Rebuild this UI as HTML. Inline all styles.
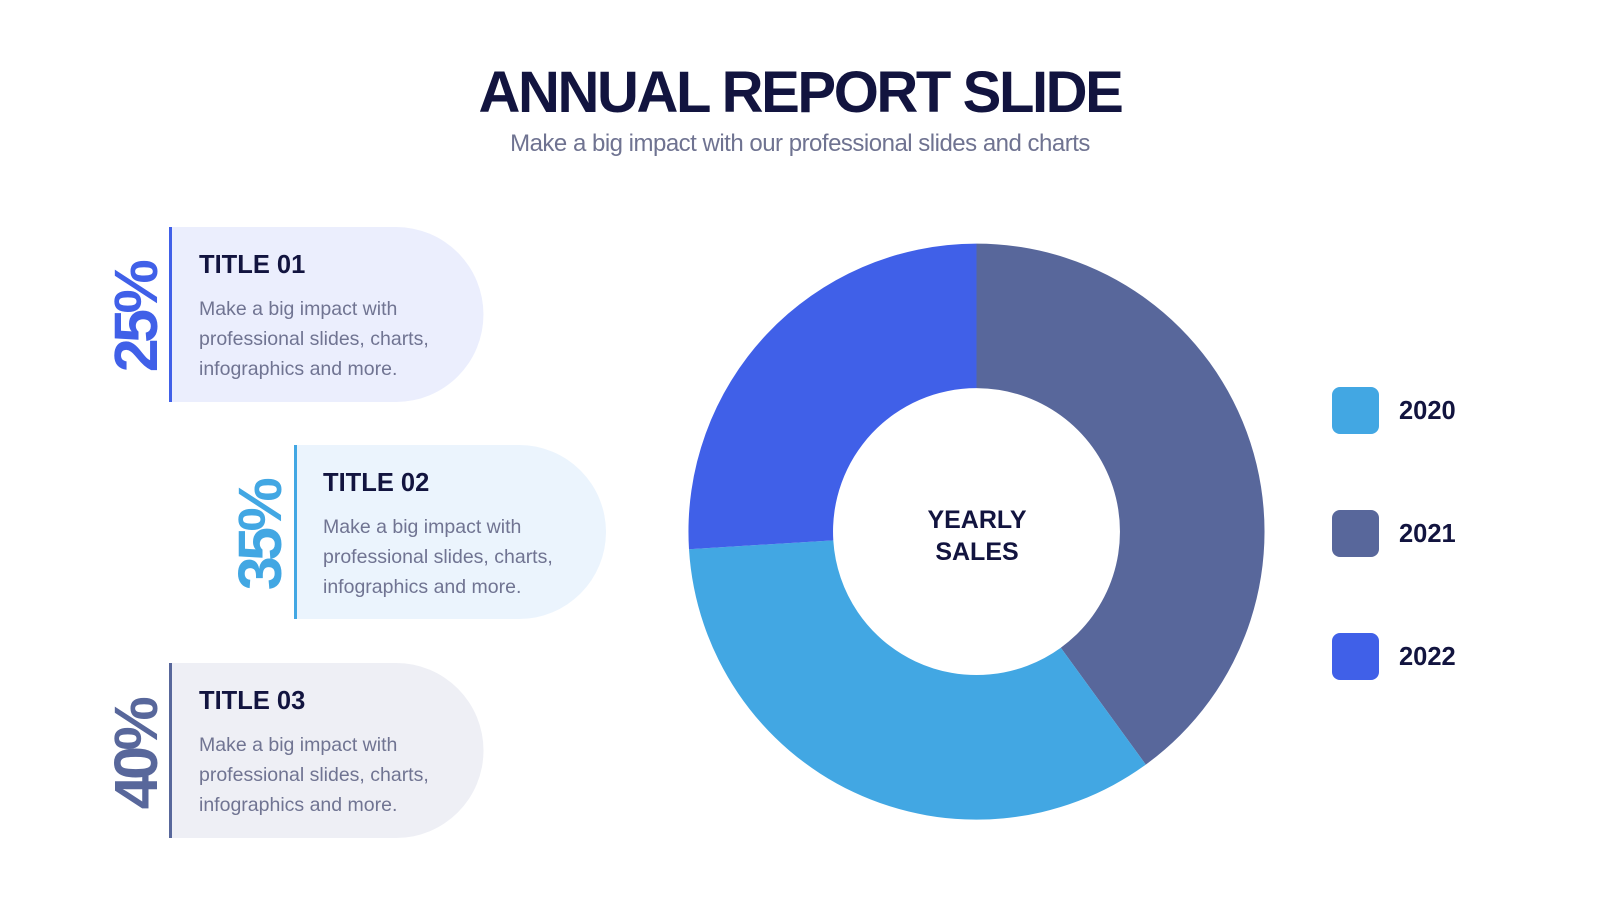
<!DOCTYPE html>
<html><head><meta charset="utf-8"><style>
html,body{margin:0;padding:0;background:#fff;}
svg{display:block;}
</style></head><body>
<svg width="1600" height="900" viewBox="0 0 1600 900" xmlns="http://www.w3.org/2000/svg" font-family="'Liberation Sans', Arial, sans-serif">
<rect width="1600" height="900" fill="#fff"/>
<text x="800" y="112" text-anchor="middle" font-size="58" font-weight="bold" fill="#12143f" letter-spacing="-2.4">ANNUAL REPORT SLIDE</text>
<text x="800" y="151" text-anchor="middle" font-size="24" fill="#6f7391" letter-spacing="-0.5">Make a big impact with our professional slides and charts</text>

<!-- cards -->
<path d="M170 227 H396 A87.5 87.5 0 0 1 396 402 H170 Z" fill="#ebeefd"/>
<rect x="169" y="227" width="3" height="175" fill="#4060e8"/>
<path d="M295 445 H519 A87 87 0 0 1 519 619 H295 Z" fill="#ebf4fd"/>
<rect x="294" y="445" width="3" height="174" fill="#42a7e3"/>
<path d="M170 663 H396 A87.5 87.5 0 0 1 396 838 H170 Z" fill="#eeeff5"/>
<rect x="169" y="663" width="3" height="175" fill="#58679b"/>

<g fill="#12143f" font-weight="bold" font-size="25.5">
<text x="199" y="273">TITLE 01</text>
<text x="323" y="491">TITLE 02</text>
<text x="199" y="709">TITLE 03</text>
</g>
<g fill="#707492" font-size="19.5">
<text x="199" y="315">Make a big impact with</text>
<text x="199" y="345">professional slides, charts,</text>
<text x="199" y="375">infographics and more.</text>
<text x="323" y="533">Make a big impact with</text>
<text x="323" y="563">professional slides, charts,</text>
<text x="323" y="593">infographics and more.</text>
<text x="199" y="751">Make a big impact with</text>
<text x="199" y="781">professional slides, charts,</text>
<text x="199" y="811">infographics and more.</text>
</g>
<g font-weight="bold" font-size="61" letter-spacing="-4.5" text-anchor="middle">
<text transform="translate(135 318) rotate(-90)" y="22" fill="#4060e8">25%</text>
<text transform="translate(259 536) rotate(-90)" y="22" fill="#42a7e3">35%</text>
<text transform="translate(135 755) rotate(-90)" y="22" fill="#58679b">40%</text>
</g>

<!-- donut -->
<path d="M976.5 243.6 A288 288 0 0 1 1145.8 764.6 L1060.8 647.7 A143.5 143.5 0 0 0 976.5 388.1 Z" fill="#58679b"/>
<path d="M1145.8 764.6 A288 288 0 0 1 689.0 549.2 L833.3 540.4 A143.5 143.5 0 0 0 1060.8 647.7 Z" fill="#42a7e3"/>
<path d="M689.0 549.2 A288 288 0 0 1 976.5 243.6 L976.5 388.1 A143.5 143.5 0 0 0 833.3 540.4 Z" fill="#4060e8"/>
<g fill="#12143f" font-weight="bold" font-size="25" text-anchor="middle">
<text x="977" y="528">YEARLY</text>
<text x="977" y="560">SALES</text>
</g>

<!-- legend -->
<rect x="1332" y="387" width="47" height="47" rx="8" fill="#42a7e3"/>
<rect x="1332" y="510" width="47" height="47" rx="8" fill="#58679b"/>
<rect x="1332" y="633" width="47" height="47" rx="8" fill="#4060e8"/>
<g fill="#12143f" font-weight="bold" font-size="25.5">
<text x="1399" y="419">2020</text>
<text x="1399" y="542">2021</text>
<text x="1399" y="665">2022</text>
</g>
</svg>
</body></html>
